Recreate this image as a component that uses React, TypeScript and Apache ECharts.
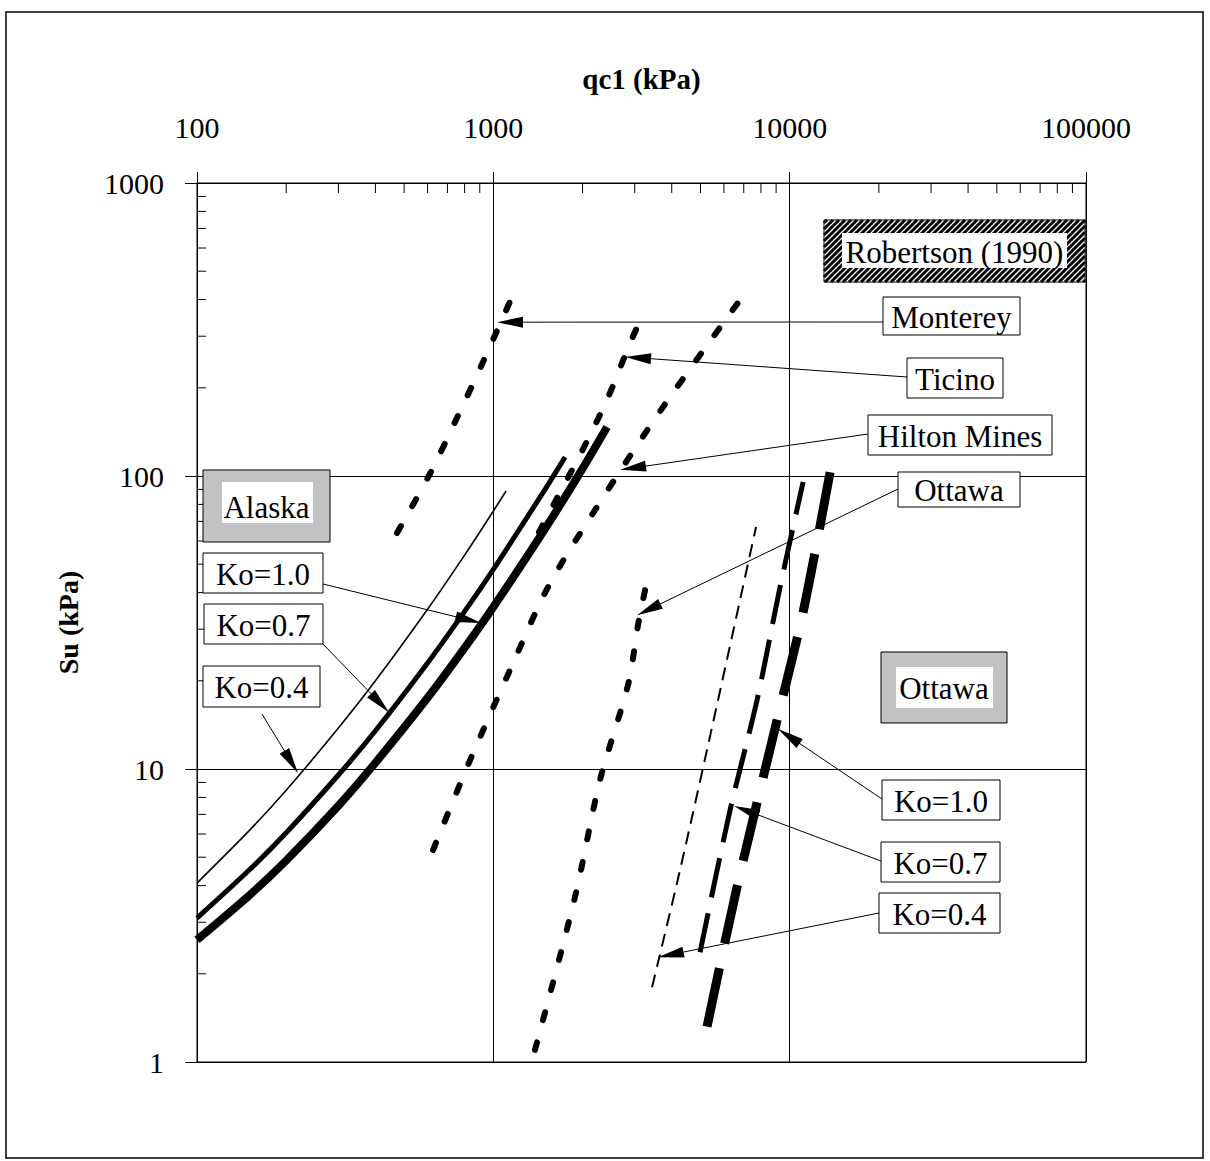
import React, { useEffect, useRef } from "react";
import * as echarts from "echarts";

// ---------- axis ticks ----------
const xMinorTicks = [200, 300, 400, 500, 600, 700, 800, 900, 2000, 3000, 4000, 5000, 6000, 7000, 8000, 9000, 20000, 30000, 40000, 50000, 60000, 70000, 80000, 90000];
const yMinorTicks = [2, 3, 4, 5, 6, 7, 8, 9, 20, 30, 40, 50, 60, 70, 80, 90, 200, 300, 400, 500, 600, 700, 800, 900];

// ---------- Alaska (solid) ----------
const alaskaKo04X = [100, 150, 200, 300, 400, 600, 800, 1000, 1104];
const alaskaKo04Y = [4.08, 6.16, 8.46, 13.8, 20.0, 35.1, 53.7, 75.9, 88.9];
const alaskaKo07X = [100, 150, 200, 300, 400, 600, 800, 1000, 1500, 1746];
const alaskaKo07Y = [3.1, 4.52, 6.06, 9.54, 13.5, 23.0, 34.5, 48.0, 90.6, 116];
const alaskaKo10X = [100, 150, 200, 300, 400, 600, 800, 1000, 1500, 2000, 2419];
const alaskaKo10Y = [2.61, 3.7, 4.87, 7.49, 10.5, 17.5, 25.9, 35.7, 66.4, 106, 147];

// ---------- Robertson (1990) ----------
const montereyX = [473, 612, 754, 923, 1184];
const montereyY = [63.9, 102, 158, 245, 431];
const ticinoX = [1279, 1438, 1746, 1962, 2419, 2893, 3251];
const ticinoY = [51.7, 65.4, 94.6, 118, 182, 284, 369];
const hiltonX = [626, 834, 1139, 1530, 2204, 3738, 7073];
const hiltonY = [5.29, 10.7, 21.8, 41.8, 76.6, 172, 421];
const ottawaRX = [1382, 1887, 2291, 2849, 3078, 3251];
const ottawaRY = [1.1, 3.66, 9.17, 19.4, 31.0, 40.8];

// ---------- Ottawa (long dashes) ----------
const ottawaKo04X = [3432, 4266, 5733, 7700];
const ottawaKo04Y = [1.8, 4.52, 17.2, 67];
const ottawaKo07X = [4984, 6294, 7762, 9281, 11100];
const ottawaKo07Y = [2.37, 7.24, 17.2, 41.8, 95.4];
const ottawaKo10X = [5262, 6645, 9070, 11100, 13690];
const ottawaKo10Y = [1.32, 3.96, 14.7, 34.3, 103];

// ---------- annotation arrow tips (data coords) ----------
const arrowTipX = [1029, 2783, 2677, 3055, 909, 445, 219, 9140, 6492, 3596];
const arrowTipY = [335, 255, 105, 33.5, 31.5, 15.6, 9.69, 13.7, 7.48, 2.28];

const FONT = "'Liberation Serif', 'Times New Roman', serif";

type Box = { x: number; y: number; w: number; h: number; text: string; kind: "plain" | "gray" | "hatch"; inner?: [number, number, number, number]; from?: [number, number]; tip?: number };

const boxes: Box[] = [
  { x: 824, y: 220, w: 261, h: 62, text: "Robertson (1990)", kind: "hatch", inner: [842, 233, 225, 35] },
  { x: 883, y: 297, w: 137, h: 38, text: "Monterey", kind: "plain", from: [883, 322], tip: 0 },
  { x: 907, y: 358, w: 96, h: 40, text: "Ticino", kind: "plain", from: [907, 377], tip: 1 },
  { x: 868, y: 415, w: 184, h: 40, text: "Hilton Mines", kind: "plain", from: [868, 434], tip: 2 },
  { x: 898, y: 472, w: 122, h: 35, text: "Ottawa", kind: "plain", from: [898, 489], tip: 3 },
  { x: 203, y: 470, w: 127, h: 72, text: "Alaska", kind: "gray", inner: [222, 482, 91, 41] },
  { x: 203, y: 553, w: 120, h: 40, text: "Ko=1.0", kind: "plain", from: [323, 584], tip: 4 },
  { x: 204, y: 604, w: 119, h: 40, text: "Ko=0.7", kind: "plain", from: [322, 643], tip: 5 },
  { x: 203, y: 666, w: 117, h: 41, text: "Ko=0.4", kind: "plain", from: [262, 714], tip: 6 },
  { x: 881, y: 652, w: 126, h: 71, text: "Ottawa", kind: "gray", inner: [896, 667, 97, 41] },
  { x: 882, y: 780, w: 118, h: 40, text: "Ko=1.0", kind: "plain", from: [882, 799], tip: 7 },
  { x: 881, y: 842, w: 119, h: 40, text: "Ko=0.7", kind: "plain", from: [881, 861], tip: 8 },
  { x: 879, y: 893, w: 121, h: 40, text: "Ko=0.4", kind: "plain", from: [879, 913], tip: 9 },
];

function zip(xs: number[], ys: number[]) {
  return xs.map((x, i) => [x, ys[i]]);
}

function lineSeries(name: string, xs: number[], ys: number[], width: number, dash: any, cap: string = "butt", smooth: number = 0.3) {
  return {
    name,
    type: "line",
    data: zip(xs, ys),
    smooth,
    showSymbol: false,
    symbol: "none",
    silent: true,
    lineStyle: { color: "#000", width, type: dash, cap, join: "round" },
    z: 3,
  };
}

function hatchLines(x0: number, y0: number, w: number, h: number, pitch: number) {
  const x1 = x0 + w;
  const y1 = y0 + h;
  const out: any[] = [];
  for (let c = x0 + y0 + pitch / 2; c < x1 + y1; c += pitch) {
    const xa = Math.max(x0, c - y1);
    const xb = Math.min(x1, c - y0);
    if (xb > xa) {
      out.push({ type: "line", silent: true, z: 101, shape: { x1: xa, y1: c - xa, x2: xb, y2: c - xb }, style: { stroke: "#000", lineWidth: 3 } });
    }
  }
  return out;
}

function arrowEls(from: [number, number], to: number[]) {
  const dx = to[0] - from[0];
  const dy = to[1] - from[1];
  const L = Math.hypot(dx, dy) || 1;
  const ux = dx / L;
  const uy = dy / L;
  const hl = 26;
  const hw = 5.5;
  const bx = to[0] - ux * hl;
  const by = to[1] - uy * hl;
  return [
    { type: "line", silent: true, z: 102, shape: { x1: from[0], y1: from[1], x2: bx + ux * 4, y2: by + uy * 4 }, style: { stroke: "#000", lineWidth: 1 } },
    { type: "polygon", silent: true, z: 102, shape: { points: [[to[0], to[1]], [bx - uy * hw, by + ux * hw], [bx + uy * hw, by - ux * hw]] }, style: { fill: "#000" } },
  ];
}

export default function App() {
  const ref = useRef<HTMLDivElement>(null);
  useEffect(() => {
    document.body.style.margin = "0";
    if (!ref.current) return;
    const chart = echarts.init(ref.current, null, { renderer: "svg" });
    const labelFmt = (v: number) => String(Math.round(v));
    const option: any = {
      animation: false,
      backgroundColor: "#fff",
      grid: { left: 197, top: 183, width: 889, height: 879, show: true, borderColor: "#000", borderWidth: 1, backgroundColor: "transparent" },
      xAxis: {
        type: "log",
        logBase: 10,
        min: 100,
        max: 100000,
        position: "top",
        name: "qc1 (kPa)",
        nameLocation: "middle",
        nameGap: 90,
        nameTextStyle: { fontFamily: FONT, fontSize: 29, fontWeight: "bold", color: "#000" },
        axisLine: { show: true, lineStyle: { color: "#000", width: 1 } },
        axisTick: { show: true, inside: false, length: 11, lineStyle: { color: "#000" } },
        axisLabel: { show: true, margin: 41, fontFamily: FONT, fontSize: 30, color: "#000", formatter: labelFmt },
        splitLine: { show: true, lineStyle: { color: "#000", width: 1 } },
        minorTick: { show: false },
      },
      yAxis: {
        type: "log",
        logBase: 10,
        min: 1,
        max: 1000,
        name: "Su (kPa)",
        nameLocation: "middle",
        nameRotate: 90,
        nameGap: 115,
        nameTextStyle: { fontFamily: FONT, fontSize: 28, fontWeight: "bold", color: "#000" },
        axisLine: { show: true, lineStyle: { color: "#000", width: 1 } },
        axisTick: { show: true, inside: false, length: 12, lineStyle: { color: "#000" } },
        axisLabel: { show: true, margin: 33, fontFamily: FONT, fontSize: 30, color: "#000", formatter: labelFmt },
        splitLine: { show: true, lineStyle: { color: "#000", width: 1 } },
      },
      series: [
        lineSeries("Alaska Ko=0.4", alaskaKo04X, alaskaKo04Y, 1.6, "solid"),
        lineSeries("Alaska Ko=0.7", alaskaKo07X, alaskaKo07Y, 5, "solid"),
        lineSeries("Alaska Ko=1.0", alaskaKo10X, alaskaKo10Y, 8, "solid"),
        lineSeries("Monterey", montereyX, montereyY, 6, [8, 23], "round"),
        lineSeries("Ticino", ticinoX, ticinoY, 6, [8, 23], "round"),
        lineSeries("Hilton Mines", hiltonX, hiltonY, 6, [8, 23], "round"),
        lineSeries("Ottawa (Robertson)", ottawaRX, ottawaRY, 6, [8, 23], "round"),
        lineSeries("Ottawa Ko=0.4", ottawaKo04X, ottawaKo04Y, 2, [13, 8]),
        lineSeries("Ottawa Ko=0.7", ottawaKo07X, ottawaKo07Y, 5, [40, 16]),
        lineSeries("Ottawa Ko=1.0", ottawaKo10X, ottawaKo10Y, 9, [60, 25]),
        {
          name: "x minor ticks",
          type: "custom",
          silent: true,
          data: xMinorTicks.map((v) => [v, 1000]),
          renderItem: (_p: any, api: any) => {
            const p = api.coord([api.value(0), api.value(1)]);
            return { type: "line", shape: { x1: p[0], y1: p[1], x2: p[0], y2: p[1] + 10 }, style: { stroke: "#000", lineWidth: 1 } };
          },
          z: 4,
        },
        {
          name: "y minor ticks",
          type: "custom",
          silent: true,
          data: yMinorTicks.map((v) => [100, v]),
          renderItem: (_p: any, api: any) => {
            const p = api.coord([api.value(0), api.value(1)]);
            return { type: "line", shape: { x1: p[0], y1: p[1], x2: p[0] + 9, y2: p[1] }, style: { stroke: "#000", lineWidth: 1 } };
          },
          z: 4,
        },
      ],
    };
    chart.setOption(option);

    const els: any[] = [];
    els.push({ type: "rect", silent: true, z: 0, shape: { x: 6, y: 12, width: 1197, height: 1146 }, style: { fill: "none", stroke: "#000", lineWidth: 1.5 } });
    boxes.forEach((b) => {
      if (b.kind === "hatch") {
        els.push({ type: "rect", silent: true, z: 100, shape: { x: b.x, y: b.y, width: b.w, height: b.h }, style: { fill: "#fff", stroke: "none" } });
        hatchLines(b.x, b.y, b.w, b.h, 6).forEach((l) => els.push(l));
      } else {
        els.push({ type: "rect", silent: true, z: 100, shape: { x: b.x, y: b.y, width: b.w, height: b.h }, style: { fill: b.kind === "gray" ? "#c2c2c2" : "#fff", stroke: "none" } });
      }
      if (b.inner) {
        const [ix, iy, iw, ih] = b.inner;
        els.push({ type: "rect", silent: true, z: 102, shape: { x: ix, y: iy, width: iw, height: ih }, style: { fill: "#fff", stroke: "none" } });
      }
      els.push({ type: "rect", silent: true, z: 103, shape: { x: b.x, y: b.y, width: b.w, height: b.h }, style: { fill: "none", stroke: "#000", lineWidth: 1 } });
      els.push({
        type: "text",
        silent: true,
        z: 104,
        x: b.x + b.w / 2,
        y: b.y + b.h / 2 + 1,
        style: { text: b.text, fill: "#000", font: `31px ${FONT}`, align: "center", verticalAlign: "middle" },
      });
      if (b.from && b.tip !== undefined) {
        const tip = chart.convertToPixel({ xAxisIndex: 0, yAxisIndex: 0 }, [arrowTipX[b.tip], arrowTipY[b.tip]]) as number[];
        arrowEls(b.from, tip).forEach((e) => els.push(e));
      }
    });
    chart.setOption({ graphic: { elements: els } });

    return () => chart.dispose();
  }, []);
  return <div ref={ref} style={{ width: 1210, height: 1161 }} />;
}
